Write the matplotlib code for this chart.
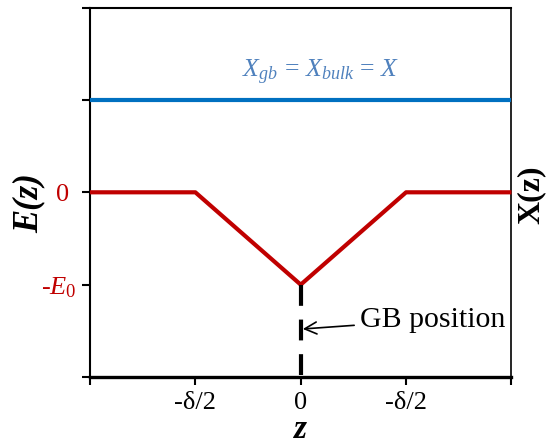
import matplotlib
matplotlib.use("Agg")
import matplotlib.pyplot as plt

plt.rcParams['font.family'] = ['Liberation Serif', 'DejaVu Serif']
plt.rcParams['mathtext.fontset'] = 'custom'
plt.rcParams['mathtext.rm'] = 'Liberation Serif'
plt.rcParams['mathtext.it'] = 'Liberation Serif:italic'
plt.rcParams['mathtext.bf'] = 'Liberation Serif:bold'

# data
z_energy = [-2, -1, 0, 1, 2]
e_energy = [0, 0, -1, 0, 0]
z_conc = [-2, 2]
x_conc = [1, 1]
gb_z = [0, 0]
gb_y = [-1, -2]
x_ticks = [-2, -1, 0, 1, 2]
x_ticklabels = ['', '-δ/2', '0', '-δ/2', '']
y_ticks = [-2, -1, 0, 1, 2]
y_ticklabels = ['', r'-$E_{\mathit{0}}$', '0 ', '', '']

fig = plt.figure(figsize=(5.47, 4.48), dpi=100)
ax = fig.add_axes([0.1645, 0.1585, 0.7705, 0.8245])

ax.plot(z_conc, x_conc, color='#0070C0', lw=3, solid_capstyle='butt', clip_on=False, zorder=3)
ax.plot(z_energy, e_energy, color='#C00000', lw=3, solid_capstyle='butt', clip_on=False, zorder=3)
ax.plot(gb_z, gb_y, color='black', lw=3, linestyle=(0, (5, 3.3)), clip_on=False, zorder=3)

ax.set_xlim(-2, 2)
ax.set_ylim(-2, 2)
ax.set_xticks(x_ticks)
ax.set_xticklabels(x_ticklabels, fontsize=19)
ax.set_yticks(y_ticks)
ax.set_yticklabels(y_ticklabels, fontsize=19, color='#C00000')
for lbl in ax.get_yticklabels():
    if lbl.get_text().startswith('-'):
        lbl.set_fontstyle('italic')

ax.tick_params(axis='both', direction='out', length=6, width=1.5)
ax.tick_params(axis='x', pad=5)
ax.tick_params(axis='y', pad=4)

for s in ['left', 'top']:
    ax.spines[s].set_linewidth(1.5)
ax.spines['right'].set_linewidth(1.2)
ax.spines['bottom'].set_linewidth(2.4)

ax.text(0.19, 1.30, r'$X_{gb}\,=\,X_{bulk}\,=\,X$', color='#4F81BD', fontsize=18.5,
        ha='center', va='center')

ax.annotate('GB position', xy=(0.02, -1.48), xytext=(0.56, -1.38),
            fontsize=21.5, ha='left', va='center',
            arrowprops=dict(arrowstyle='->', color='black', lw=1.2, shrinkA=2, shrinkB=0))

ax.set_xlabel('z', fontsize=24, fontweight='bold', fontstyle='italic', labelpad=0)
fig.text(29 / 547, 1 - 203 / 448, 'E(z)', rotation=90, fontsize=25, fontweight='bold',
         fontstyle='italic', ha='center', va='center')

fig.text(0.971, 0.565, 'X(z)', rotation=90, fontsize=23, fontweight='bold',
         ha='center', va='center')

fig.savefig('out.png', dpi=100)
